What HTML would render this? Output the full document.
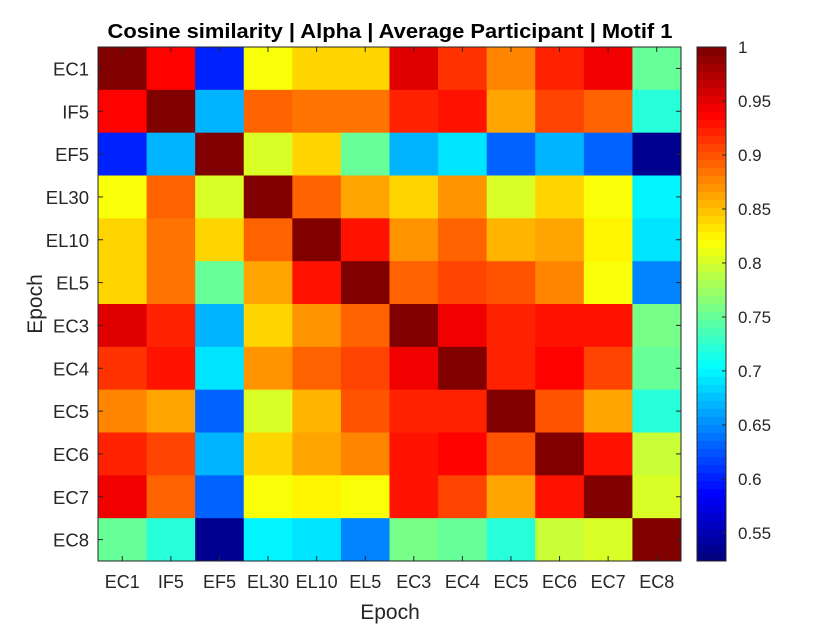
<!DOCTYPE html>
<html><head><meta charset="utf-8"><style>
html,body{margin:0;padding:0;background:#fff;}
svg{display:block;font-family:"Liberation Sans",Arial,sans-serif;}
</style></head><body>
<svg id="chart" width="840" height="630" viewBox="0 0 840 630" xmlns="http://www.w3.org/2000/svg">
<rect width="840" height="630" fill="#fff"/>
<text x="390" y="38" text-anchor="middle" font-size="20" font-weight="bold" fill="#000" textLength="565" lengthAdjust="spacingAndGlyphs">Cosine similarity | Alpha | Average Participant | Motif 1</text>
<g id="cells"></g>
<g id="cbar"></g>
<g id="axes"></g>
<text x="390" y="619" text-anchor="middle" font-size="21" fill="#262626">Epoch</text>
<text transform="translate(42,304) rotate(-90)" text-anchor="middle" font-size="21" fill="#262626">Epoch</text>
</svg>
<script>
const labels = ["EC1","IF5","EF5","EL30","EL10","EL5","EC3","EC4","EC5","EC6","EC7","EC8"];
const values = [
[1,0.938,0.601,0.821,0.843,0.843,0.955,0.918,0.880,0.925,0.947,0.747],
[0.938,1,0.670,0.895,0.885,0.885,0.925,0.933,0.866,0.910,0.895,0.723],
[0.601,0.670,1,0.806,0.838,0.747,0.670,0.687,0.627,0.665,0.627,0.529],
[0.821,0.895,0.806,1,0.895,0.866,0.838,0.873,0.806,0.843,0.821,0.701],
[0.843,0.885,0.838,0.895,1,0.933,0.873,0.895,0.857,0.866,0.830,0.687],
[0.843,0.885,0.747,0.866,0.933,1,0.895,0.910,0.903,0.880,0.821,0.642],
[0.955,0.925,0.670,0.838,0.873,0.895,1,0.947,0.925,0.933,0.933,0.761],
[0.918,0.933,0.687,0.873,0.895,0.910,0.947,1,0.925,0.938,0.910,0.753],
[0.880,0.866,0.627,0.806,0.857,0.903,0.925,0.925,1,0.903,0.866,0.723],
[0.925,0.910,0.665,0.843,0.866,0.880,0.933,0.938,0.903,1,0.933,0.799],
[0.947,0.895,0.627,0.821,0.830,0.821,0.933,0.910,0.866,0.933,1,0.806],
[0.747,0.723,0.529,0.701,0.687,0.642,0.761,0.753,0.723,0.799,0.806,1]
];
const cbTicks = [0.55,0.6,0.65,0.7,0.75,0.8,0.85,0.9,0.95,1];
const cbTickLabels = ["0.55","0.6","0.65","0.7","0.75","0.8","0.85","0.9","0.95","1"];
const cmin = 0.524, cmax = 1.0;

const L=98,R=681,T=47,B=561;
const n=labels.length, cw=(R-L)/n, ch=(B-T)/n;
const NS="http://www.w3.org/2000/svg";
function mk(tag,attrs,parent){const e=document.createElementNS(NS,tag);for(const k in attrs)e.setAttribute(k,attrs[k]);parent.appendChild(e);return e;}
function cl(x){return Math.max(0,Math.min(1,x));}
function jet(v){
  let t=cl((v-cmin)/(cmax-cmin));
  t=Math.round(t*63)/63;
  const r=cl(1.5-Math.abs(4*t-3)),g=cl(1.5-Math.abs(4*t-2)),b=cl(1.5-Math.abs(4*t-1));
  return `rgb(${Math.round(r*255)},${Math.round(g*255)},${Math.round(b*255)})`;
}
function xPos(i){return L+i*cw;}
function yPos(j){return T+j*ch;}
const cells=document.getElementById('cells');
values.forEach((row,j)=>row.forEach((v,i)=>{
  const r=mk('rect',{x:xPos(i),y:yPos(j),width:cw+0.5,height:ch+0.5,fill:jet(v)},cells);
  
  
}));
const axes=document.getElementById('axes');
mk('rect',{x:L,y:T,width:R-L,height:B-T,fill:'none',stroke:'#262626','stroke-width':1},axes);
labels.forEach((lab,i)=>{
  const cx=xPos(i)+cw/2, cy=yPos(i)+ch/2;
  mk('line',{x1:cx,y1:B,x2:cx,y2:B-5,stroke:'#262626'},axes);
  mk('line',{x1:cx,y1:T,x2:cx,y2:T+5,stroke:'#262626'},axes);
  mk('line',{x1:L,y1:cy,x2:L+5,y2:cy,stroke:'#262626'},axes);
  mk('line',{x1:R,y1:cy,x2:R-5,y2:cy,stroke:'#262626'},axes);
  const tx=mk('text',{x:cx,y:B+27,'text-anchor':'middle','font-size':18,fill:'#262626'},axes);
  tx.textContent=lab;
  
  
  const ty=mk('text',{x:L-9,y:cy+7,'text-anchor':'end','font-size':18.5,fill:'#262626'},axes);
  ty.textContent=lab;
  
  
});
const cb=document.getElementById('cbar');
const CL=697,CR=726;
function cbY(v){return B-(v-cmin)/(cmax-cmin)*(B-T);}
for(let k=0;k<64;k++){
  const v0=cmin+k*(cmax-cmin)/64, v1=cmin+(k+1)*(cmax-cmin)/64;
  mk('rect',{x:CL,y:cbY(v1),width:CR-CL,height:cbY(v0)-cbY(v1)+0.5,fill:jet((v0+v1)/2)},cb);
}
mk('rect',{x:CL,y:T,width:CR-CL,height:B-T,fill:'none',stroke:'#262626'},cb);
cbTicks.forEach((v,k)=>{
  const y=cbY(v);
  mk('line',{x1:CR,y1:y,x2:CR-4,y2:y,stroke:'#262626'},cb);
  const t=mk('text',{x:CR+12,y:y+6,'font-size':17,fill:'#262626'},cb);
  t.textContent=cbTickLabels[k];
  
  
});
</script>
</body></html>
